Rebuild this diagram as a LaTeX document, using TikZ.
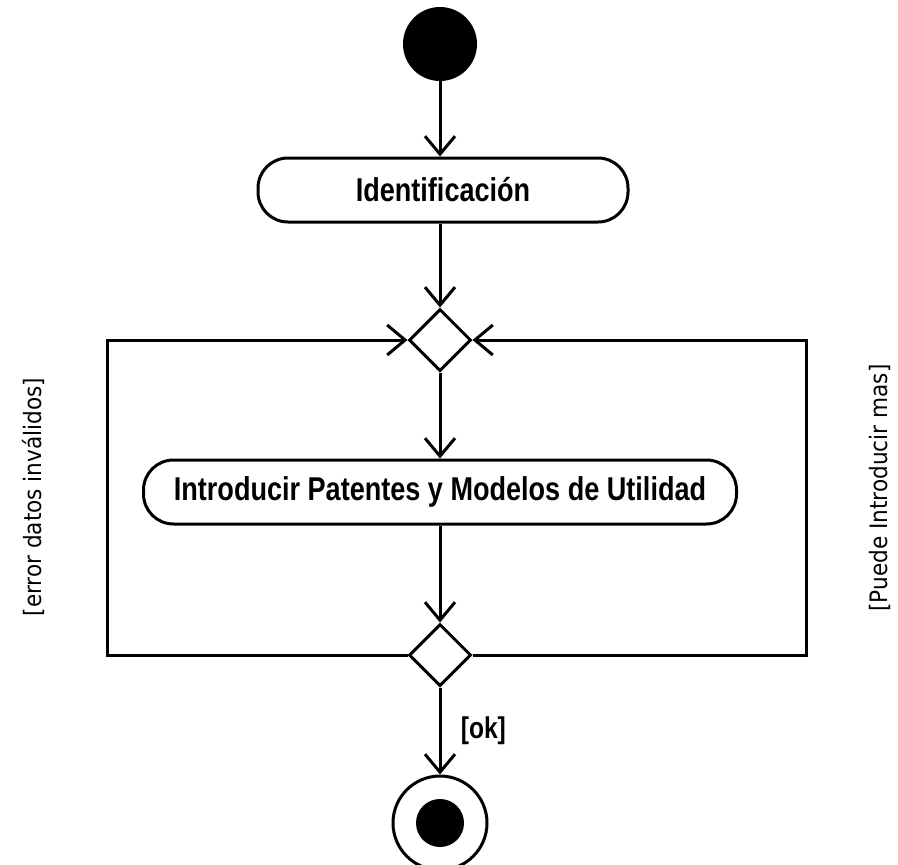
\documentclass[tikz,border=0pt]{standalone}
\usepackage{fontspec}
\setmainfont{Liberation Sans}
\newfontfamily\boxfont{Liberation Sans}[FakeStretch=0.82]
\newfontfamily\sidefont{DejaVu Sans}[FakeStretch=0.9]
\usetikzlibrary{arrows.meta,shapes.geometric}
\begin{document}
\begin{tikzpicture}[x=1pt,y=-1pt,
  lw/.style={line width=3pt},
  flow/.style={lw,-{Straight Barb[length=18pt,width=30pt,line width=3pt]}},
  action/.style={lw,draw,rounded corners=30pt,minimum height=64pt,inner sep=0pt,font=\boxfont\bfseries\fontsize{33}{38}\selectfont},
  decision/.style={lw,draw,diamond,minimum width=62pt,minimum height=62pt,inner sep=0pt,fill=white},
  side/.style={font=\sidefont\fontsize{24}{28}\selectfont,rotate=90}]
\useasboundingbox (0,0) rectangle (898,865);
\node[circle,fill=black,minimum size=74pt,inner sep=0pt] (start) at (440,44) {};
\node[action,minimum width=370pt] (ident) at (443,190) {Identificación};
\node[decision] (d1) at (440,340) {};
\node[action,minimum width=593pt] (intro) at (440,492) {Introducir Patentes y Modelos de Utilidad};
\node[decision] (d2) at (440,655) {};
\node[circle,lw,draw,minimum size=94pt,inner sep=0pt] (final) at (440,823) {};
\node[circle,fill=black,minimum size=48pt,inner sep=0pt] (finaldot) at (final) {};
\coordinate (bl) at (107,655);
\coordinate (tl) at (107,340);
\coordinate (br) at (806,655);
\coordinate (tr) at (806,340);
\draw[flow] (start) -- (start|-ident.north);
\draw[flow] (ident.south-|d1) -- (d1.north);
\draw[flow] (d1.south) -- (d1.south|-intro.north);
\draw[flow] (intro.south-|d2) -- (d2.north);
\draw[flow] (d2.south) -- node[right=16pt,font=\boxfont\bfseries\fontsize{30}{34}\selectfont]{[ok]} (final.north);
\draw[flow] (d2.west) -- (bl) -- (tl) -- (d1.west);
\draw[flow] (d2.east) -- (br) -- (tr) -- (d1.east);
\node[side] (l1) at (33,497) {[error datos inválidos]};
\node[side] (l2) at (880,488) {[Puede Introducir mas]};
\end{tikzpicture}
\end{document}
